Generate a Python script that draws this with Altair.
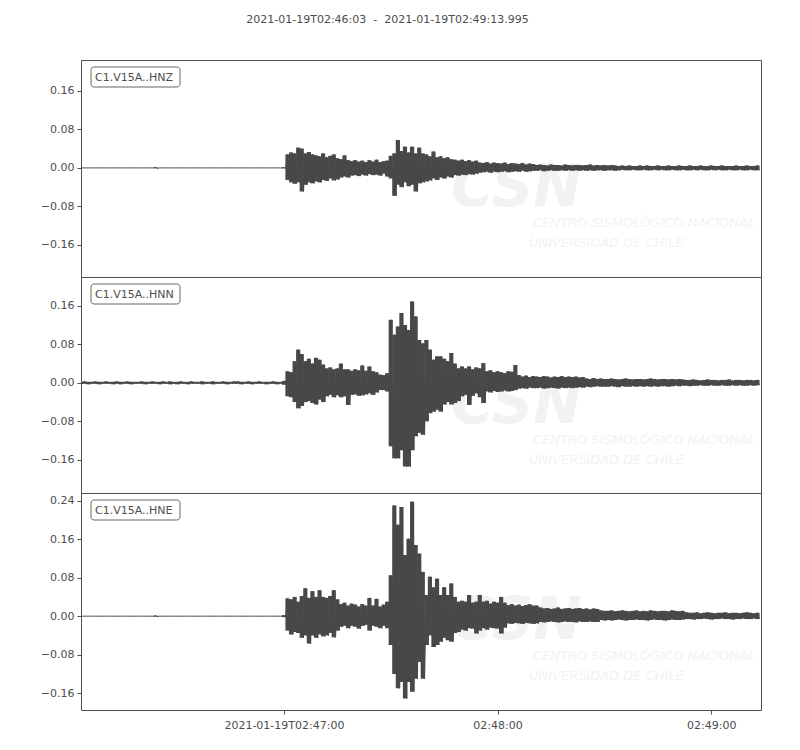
import altair as alt
import pandas as pd

title_text = "2021-01-19T02:46:03\u00a0\u00a0-\u00a0\u00a02021-01-19T02:49:13.995"
trace_names = ["C1.V15A..HNZ", "C1.V15A..HNN", "C1.V15A..HNE"]
x_end = 190.995  # seconds after 02:46:03
x_tick_values = [57, 117, 177]
x_tick_labels = ["2021-01-19T02:47:00", "02:48:00", "02:49:00"]
y_domains = [[-0.2265, 0.224], [-0.229, 0.22], [-0.195, 0.256]]
y_ticks = [[-0.16, -0.08, 0.0, 0.08, 0.16],
           [-0.16, -0.08, 0.0, 0.08, 0.16],
           [-0.16, -0.08, 0.0, 0.08, 0.16, 0.24]]
panel_heights = [217, 216, 217]
seconds = list(range(191))

# per-second max / min of each trace, in thousandths
hnz_hi = [0, 0, 0, 0, 0, 0, 0, 0, 0, 0,
          0, 0, 0, 0, 0, 0, 0, 0, 0, 0,
          0, 1, 0, 0, 0, 0, 0, 0, 0, 0,
          0, 0, 0, 0, 0, 0, 0, 0, 0, 0,
          0, 0, 0, 0, 0, 0, 0, 0, 0, 0,
          0, 0, 0, 0, 0, 0, 0, 1,
          28, 32, 30, 42, 40, 30, 33, 28, 26, 24,
          30, 22, 25, 28, 20, 18, 26, 16, 14, 16,
          13, 15, 12, 16, 13, 17, 12, 14, 15, 25,
          30, 58, 35, 44, 32, 44, 30, 42, 30, 28,
          24, 34, 22, 24, 20, 22, 18, 17, 15, 17,
          14, 16, 13, 15, 11, 10, 12, 9, 11, 10,
          9, 11, 8, 10, 9, 8, 10, 7, 9, 8,
          6, 7, 6, 5, 7, 6, 6, 5, 7, 6,
          5, 6, 6, 5, 6, 7, 5, 6, 5, 6,
          5, 6, 5, 4, 5, 4, 5, 4, 4, 5,
          4, 5, 4, 4, 5, 4, 4, 5, 4, 4,
          5, 4, 4, 5, 4, 4, 5, 4, 4, 5,
          4, 4, 5, 4, 4, 4, 5, 4, 4, 5,
          4, 4, 5]
hnz_lo = [0, 0, 0, 0, 0, 0, 0, 0, 0, 0,
          0, 0, 0, 0, 0, 0, 0, 0, 0, 0,
          0, -1, 0, 0, 0, 0, 0, 0, 0, 0,
          0, 0, 0, 0, 0, 0, 0, 0, 0, 0,
          0, 0, 0, 0, 0, 0, 0, 0, 0, 0,
          0, 0, 0, 0, 0, 0, 0, -1,
          -25, -30, -33, -30, -49, -35, -30, -32, -28, -30,
          -25, -27, -22, -26, -24, -20, -18, -20, -16, -15,
          -17, -14, -16, -13, -15, -14, -16, -12, -18, -22,
          -58, -35, -40, -30, -38, -35, -49, -32, -30, -28,
          -26, -22, -25, -20, -22, -18, -20, -15, -16, -14,
          -15, -13, -14, -12, -10, -9, -8, -10, -8, -9,
          -8, -7, -9, -8, -7, -8, -6, -8, -7, -6,
          -6, -5, -7, -6, -5, -6, -6, -5, -6, -5,
          -6, -5, -6, -5, -6, -5, -6, -5, -5, -6,
          -5, -5, -6, -5, -4, -5, -5, -4, -5, -5,
          -4, -5, -5, -4, -5, -4, -5, -5, -4, -5,
          -5, -4, -5, -5, -4, -5, -4, -5, -5, -4,
          -5, -4, -5, -5, -4, -5, -5, -4, -5, -5,
          -4, -5, -5]

hnn_hi = [2, 3, 2, 2, 3, 2, 2, 3, 2, 2,
          3, 2, 2, 3, 2, 2, 2, 3, 2, 2,
          3, 2, 2, 3, 2, 3, 2, 2, 3, 2,
          2, 3, 2, 2, 3, 2, 2, 3, 2, 2,
          3, 2, 2, 3, 3, 2, 2, 3, 2, 2,
          3, 2, 2, 2, 3, 2, 2, 4,
          24, 22, 45, 69, 60, 45, 50, 40, 52, 48,
          38, 30, 32, 28, 30, 40, 28, 28, 25, 28,
          26, 36, 25, 34, 24, 22, 17, 16, 20, 131,
          100, 117, 145, 120, 110, 169, 138, 89, 82, 89,
          69, 48, 55, 55, 50, 45, 62, 40, 30, 34,
          30, 34, 28, 32, 30, 41, 24, 26, 22, 24,
          22, 20, 24, 23, 37, 16, 13, 15, 12, 14,
          13, 12, 14, 13, 11, 13, 12, 14, 12, 13,
          12, 13, 11, 12, 9, 8, 10, 8, 9, 8,
          8, 9, 8, 7, 8, 9, 8, 7, 8, 8,
          7, 8, 9, 8, 7, 8, 8, 7, 8, 7,
          8, 7, 6, 6, 7, 6, 5, 6, 7, 6,
          6, 5, 6, 6, 7, 5, 6, 6, 5, 6,
          6, 5, 6]
hnn_lo = [-2, -2, -3, -2, -2, -3, -2, -2, -2, -3,
          -2, -3, -2, -2, -3, -2, -2, -2, -3, -2,
          -2, -2, -3, -2, -2, -3, -2, -3, -2, -2,
          -3, -2, -2, -2, -3, -2, -2, -3, -2, -2,
          -2, -3, -2, -2, -2, -3, -2, -2, -3, -2,
          -2, -2, -3, -2, -2, -3, -2, -4,
          -28, -30, -40, -53, -48, -40, -38, -42, -45, -35,
          -40, -28, -25, -30, -26, -30, -28, -46, -25, -24,
          -27, -26, -24, -22, -25, -20, -15, -15, -18, -132,
          -157, -157, -140, -174, -174, -140, -111, -104, -108, -80,
          -63, -60, -56, -60, -45, -40, -45, -42, -38, -28,
          -25, -46, -27, -22, -30, -42, -18, -20, -17, -19,
          -18, -16, -18, -17, -15, -12, -11, -12, -10, -11,
          -11, -10, -12, -11, -10, -11, -12, -10, -11, -10,
          -11, -10, -9, -10, -8, -9, -8, -7, -8, -8,
          -8, -7, -8, -9, -7, -8, -8, -7, -8, -7,
          -8, -7, -8, -7, -8, -7, -7, -8, -7, -6,
          -7, -6, -6, -7, -6, -6, -5, -6, -6, -5,
          -6, -6, -5, -6, -6, -5, -6, -5, -6, -6,
          -5, -6, -5]

hne_hi = [0, 0, 0, 0, 0, 0, 0, 0, 0, 0,
          0, 0, 0, 0, 0, 0, 0, 0, 0, 0,
          0, 1, 0, 0, 0, 0, 0, 0, 0, 0,
          0, 0, 0, 0, 0, 0, 0, 0, 0, 0,
          0, 0, 0, 0, 0, 0, 0, 0, 0, 0,
          0, 0, 0, 0, 0, 0, 0, 2,
          37, 35, 40, 30, 42, 58, 38, 52, 40, 54,
          40, 38, 42, 54, 35, 25, 28, 22, 26, 24,
          20, 25, 22, 38, 22, 36, 20, 24, 30, 85,
          230, 190, 227, 127, 161, 238, 148, 130, 92, 44,
          82, 60, 78, 44, 60, 44, 68, 40, 30, 32,
          30, 44, 28, 30, 44, 30, 32, 26, 30, 28,
          40, 28, 23, 25, 22, 24, 21, 23, 25, 22,
          22, 18, 16, 17, 15, 16, 18, 15, 16, 17,
          15, 16, 17, 15, 16, 14, 16, 15, 12, 11,
          11, 12, 10, 11, 12, 11, 10, 11, 12, 10,
          11, 10, 12, 11, 10, 11, 11, 10, 12, 11,
          10, 11, 8, 7, 7, 8, 6, 7, 8, 7,
          6, 7, 7, 8, 6, 7, 7, 6, 7, 8,
          7, 6, 7]
hne_lo = [0, 0, 0, 0, 0, 0, 0, 0, 0, 0,
          0, 0, 0, 0, 0, 0, 0, 0, 0, 0,
          0, -1, 0, 0, 0, 0, 0, 0, 0, 0,
          0, 0, 0, 0, 0, 0, 0, 0, 0, 0,
          0, 0, 0, 0, 0, 0, 0, 0, 0, 0,
          0, 0, 0, 0, 0, 0, 0, -2,
          -30, -38, -33, -35, -45, -40, -57, -40, -45, -38,
          -42, -40, -35, -44, -30, -22, -20, -25, -20, -22,
          -26, -20, -18, -30, -20, -22, -25, -20, -25, -60,
          -120, -150, -137, -171, -137, -157, -130, -95, -130, -60,
          -40, -64, -60, -53, -45, -50, -53, -35, -33, -28,
          -30, -25, -26, -36, -30, -25, -28, -24, -25, -26,
          -36, -24, -15, -16, -14, -15, -16, -14, -15, -16,
          -15, -12, -13, -12, -11, -12, -13, -12, -11, -12,
          -12, -13, -11, -12, -12, -11, -12, -12, -8, -9,
          -8, -9, -8, -7, -8, -9, -8, -8, -7, -8,
          -8, -9, -8, -7, -8, -8, -9, -8, -7, -8,
          -8, -7, -6, -6, -7, -6, -6, -5, -6, -7,
          -6, -6, -5, -6, -6, -7, -6, -6, -5, -6,
          -6, -5, -6]

traces = [(hnz_hi, hnz_lo), (hnn_hi, hnn_lo), (hne_hi, hne_lo)]
for hi, lo in traces:
    assert len(hi) == len(seconds) and len(lo) == len(seconds), (len(hi), len(lo))

TEXT = "#4d4d4d"
FRAME = "#505050"
WAVE = "#484848"
FONT = "DejaVu Sans"
WM = "#f2f2f2"
WM_FONT = "DejaVu Sans"

x_label_expr = " : ".join(
    f"datum.value == {v} ? '{lab}'" for v, lab in zip(x_tick_values, x_tick_labels)
) + " : ''"


def make_panel(i, show_x):
    hi, lo = traces[i]
    zig = []
    for t, h, l in zip(seconds, hi, lo):
        zig.append({"t": t, "amp": h / 1000.0})
        zig.append({"t": t + 0.5, "amp": l / 1000.0})
    zig_df = pd.DataFrame(zig)
    bar_df = pd.DataFrame({"t": [float(s) for s in seconds],
                           "amp": [h / 1000.0 for h in hi],
                           "amp_lo": [l / 1000.0 for l in lo]})

    if show_x:
        x_axis = alt.Axis(values=x_tick_values, labelExpr=x_label_expr, title=None,
                          grid=False, domain=False, ticks=True, tickSize=4,
                          tickColor=FRAME, labelColor=TEXT, labelFontSize=11,
                          labelFont=FONT, labelPadding=5, labelFlush=False)
    else:
        x_axis = None

    x_scale = alt.Scale(domain=[0, x_end], nice=False, zero=False)
    y_scale = alt.Scale(domain=y_domains[i], nice=False, zero=False)
    y_axis = alt.Axis(values=y_ticks[i], format=".2f", title=None, grid=False,
                      domain=False, tickSize=4, tickColor=FRAME,
                      labelColor=TEXT, labelFontSize=11, labelFont=FONT,
                      labelPadding=3, minExtent=67, maxExtent=67)

    line = alt.Chart(zig_df).mark_line(color=WAVE, strokeWidth=1, clip=True).encode(
        x=alt.X("t:Q", scale=x_scale, axis=x_axis),
        y=alt.Y("amp:Q", scale=y_scale, axis=y_axis))
    bars = alt.Chart(bar_df).mark_rule(color=WAVE, strokeWidth=4.2, clip=True).encode(
        x=alt.X("t:Q", scale=x_scale, axis=x_axis),
        y=alt.Y("amp:Q", scale=y_scale, axis=y_axis),
        y2=alt.Y2("amp_lo:Q"))

    lab = pd.DataFrame({"name": [trace_names[i]]})
    wm1 = alt.Chart(lab).mark_text(
        text="CSN", font=WM_FONT, fontStyle="italic",
        fontWeight="bold", fontSize=58, color=WM, align="left",
        baseline="alphabetic").encode(x=alt.value(370), y=alt.value(146))
    wm2 = alt.Chart(lab).mark_text(
        text="CENTRO SISMOLÓGICO NACIONAL", font=WM_FONT,
        fontStyle="italic", fontSize=13, color=WM, align="left",
        baseline="middle").encode(x=alt.value(452), y=alt.value(163))
    wm3 = alt.Chart(lab).mark_text(
        text="UNIVERSIDAD DE CHILE", font=WM_FONT,
        fontStyle="italic", fontSize=13, color=WM, align="left",
        baseline="middle").encode(x=alt.value(448), y=alt.value(183))

    box = alt.Chart(lab).mark_rect(
        fill="white", stroke="#666666", strokeWidth=1, cornerRadius=3).encode(
        x=alt.value(10), x2=alt.value(99), y=alt.value(7), y2=alt.value(27))
    txt = alt.Chart(lab).mark_text(
        align="left", baseline="middle", fontSize=11, font=FONT, color=TEXT).encode(
        x=alt.value(14), y=alt.value(17.5), text="name:N")

    return alt.layer(wm1, wm2, wm3, bars, line, box, txt).properties(
        width=680, height=panel_heights[i])


chart = alt.vconcat(
    make_panel(0, False), make_panel(1, False), make_panel(2, True),
    spacing=0, bounds="flush"
).properties(
    title=alt.TitleParams(title_text, fontSize=11, font=FONT, color=TEXT,
                          fontWeight="normal", anchor="middle", offset=35)
).configure(
    background="white",
    view=alt.ViewConfig(stroke=FRAME, strokeWidth=1)
)

chart.save("out.html", embed_options={"renderer": "svg", "actions": False})
